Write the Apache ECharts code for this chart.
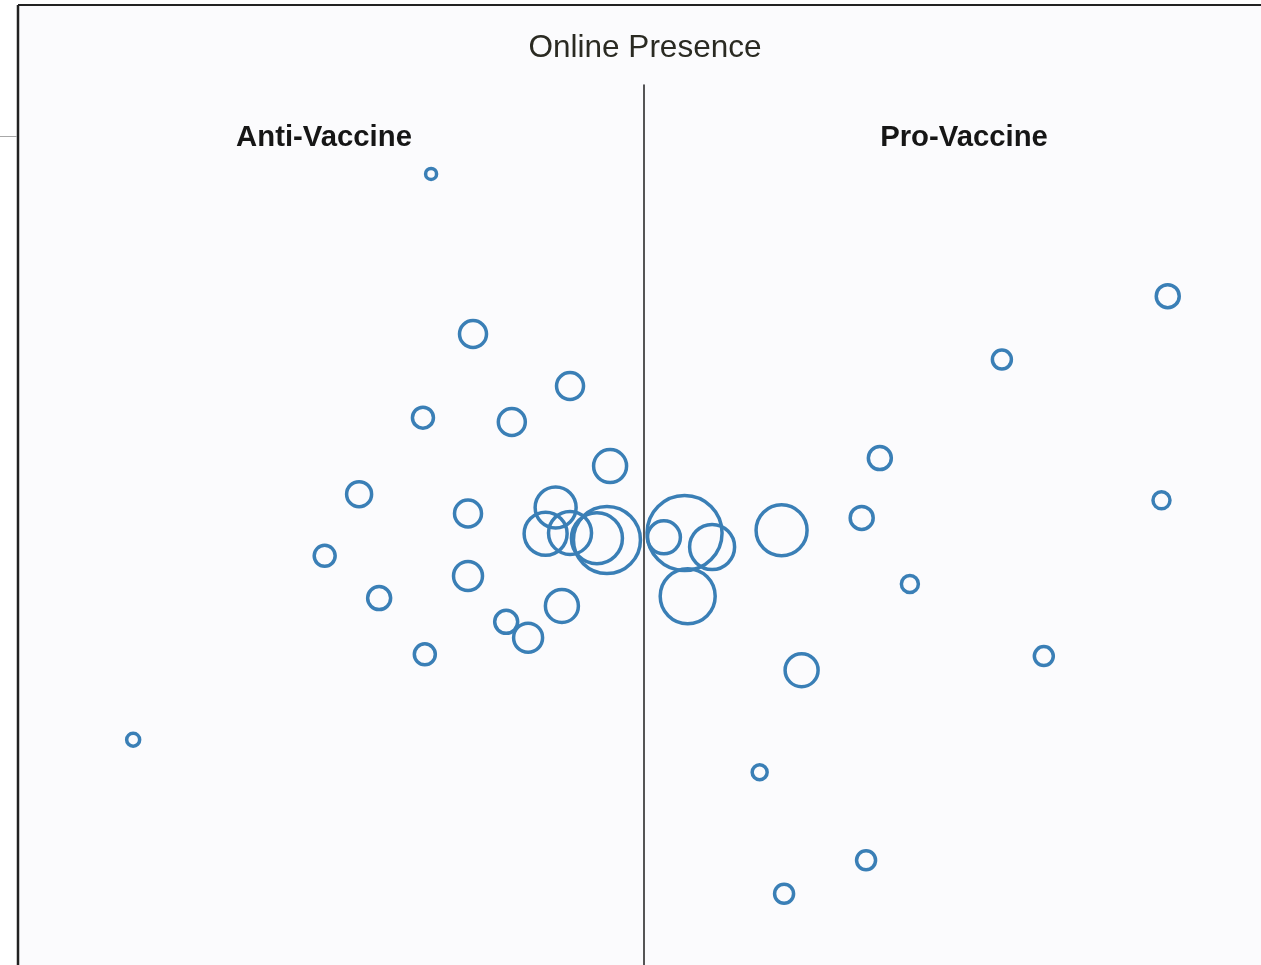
<!DOCTYPE html>
<html>
<head>
<meta charset="utf-8">
<title>Online Presence</title>
<script src="https://cdn.jsdelivr.net/npm/echarts@6/dist/echarts.min.js"></script>
<style>
    html, body { margin: 0; padding: 0; background: #fff; }
    #main { width: 1261px; height: 965px; }
</style>
</head>
<body>
<div id="main"></div>
<script>
// stance: negative = anti, positive = pro; level: height on the page; reach: bubble size
var antiStance = [-34.0, -81.6, -27.3, -11.8, -35.3, -21.1, -5.4, -45.5, -28.1, -14.1, -15.7, -11.8, -7.5, -5.9, -51.0, -28.1, -42.3, -13.1, -22.0, -18.5, -35.0];
var antiLevel  = [89.9, 25.6, 71.7, 65.8, 62.2, 61.7, 56.7, 53.5, 51.3, 52.0, 49.0, 49.1, 48.5, 48.3, 46.5, 44.2, 41.7, 40.8, 39.0, 37.2, 35.3];
var antiReach  = [11, 13, 27, 27, 21, 27, 33, 25, 27, 41, 43, 43, 51, 67, 21, 29, 23, 33, 23, 29, 21];

var proStance = [6.5, 3.2, 10.9, 7.0, 22.0, 37.7, 34.8, 42.5, 25.2, 83.7, 57.2, 82.7, 63.9, 18.5, 35.5, 22.4];
var proLevel  = [49.1, 48.6, 47.5, 41.9, 49.4, 57.6, 50.8, 43.3, 33.5, 76.0, 68.8, 52.8, 35.1, 21.9, 11.9, 8.1];
var proReach  = [75, 33, 45, 55, 51, 23, 23, 17, 33, 23, 19, 17, 19, 15, 19, 19];

var sideLabels = ['Anti-Vaccine', 'Pro-Vaccine'];

function toPoints(xs, ys, rs) {
    var pts = [];
    for (var i = 0; i < xs.length; i++) {
        pts.push([xs[i], ys[i], rs[i]]);
    }
    return pts;
}

var bubbleStyle = {
    color: 'rgba(0,0,0,0)',
    borderColor: '#3a7fb6',
    borderWidth: 3.5,
    opacity: 1
};

var chart = echarts.init(document.getElementById('main'));

var option = {
    animation: false,
    backgroundColor: '#ffffff',
    title: [
        {
            text: 'Online Presence',
            left: 645, top: 32, textAlign: 'center', padding: 0,
            textStyle: { fontFamily: 'Liberation Sans', fontSize: 31.5, fontWeight: 'normal', color: '#2a2a22' }
        },
        {
            text: sideLabels[0],
            left: 324, top: 123, textAlign: 'center', padding: 0,
            textStyle: { fontFamily: 'Liberation Sans', fontSize: 29.3, fontWeight: 'bold', color: '#161616' }
        },
        {
            text: sideLabels[1],
            left: 964, top: 123, textAlign: 'center', padding: 0,
            textStyle: { fontFamily: 'Liberation Sans', fontSize: 29.3, fontWeight: 'bold', color: '#161616' }
        }
    ],
    graphic: [
        { type: 'rect', z: -10, silent: true, shape: { x: 18, y: 5, width: 1243, height: 960 }, style: { fill: '#fbfbfd' } },
        { type: 'line', silent: true, shape: { x1: 18, y1: 5, x2: 1261, y2: 5 }, style: { stroke: '#222', lineWidth: 2 } },
        { type: 'line', silent: true, shape: { x1: 18, y1: 5, x2: 18, y2: 965 }, style: { stroke: '#222', lineWidth: 2.5 } },
        { type: 'line', silent: true, shape: { x1: 0, y1: 136.5, x2: 17, y2: 136.5 }, style: { stroke: '#a8a8a8', lineWidth: 1 } }
    ],
    grid: { left: 18, right: 0, top: 85, bottom: 0 },
    xAxis: {
        type: 'value', min: -100, max: 98.6,
        axisLine: { show: false }, axisTick: { show: false },
        axisLabel: { show: false }, splitLine: { show: false }
    },
    yAxis: {
        type: 'value', min: 0, max: 100,
        axisLine: { show: true, onZero: true, lineStyle: { color: '#1e1e1e', width: 1.5 } },
        axisTick: { show: false }, axisLabel: { show: false }, splitLine: { show: false }
    },
    series: [
        {
            name: sideLabels[0],
            type: 'scatter',
            data: toPoints(antiStance, antiLevel, antiReach),
            symbolSize: function (d) { return d[2]; },
            itemStyle: bubbleStyle
        },
        {
            name: sideLabels[1],
            type: 'scatter',
            data: toPoints(proStance, proLevel, proReach),
            symbolSize: function (d) { return d[2]; },
            itemStyle: bubbleStyle
        }
    ]
};

chart.setOption(option);
</script>
</body>
</html>
